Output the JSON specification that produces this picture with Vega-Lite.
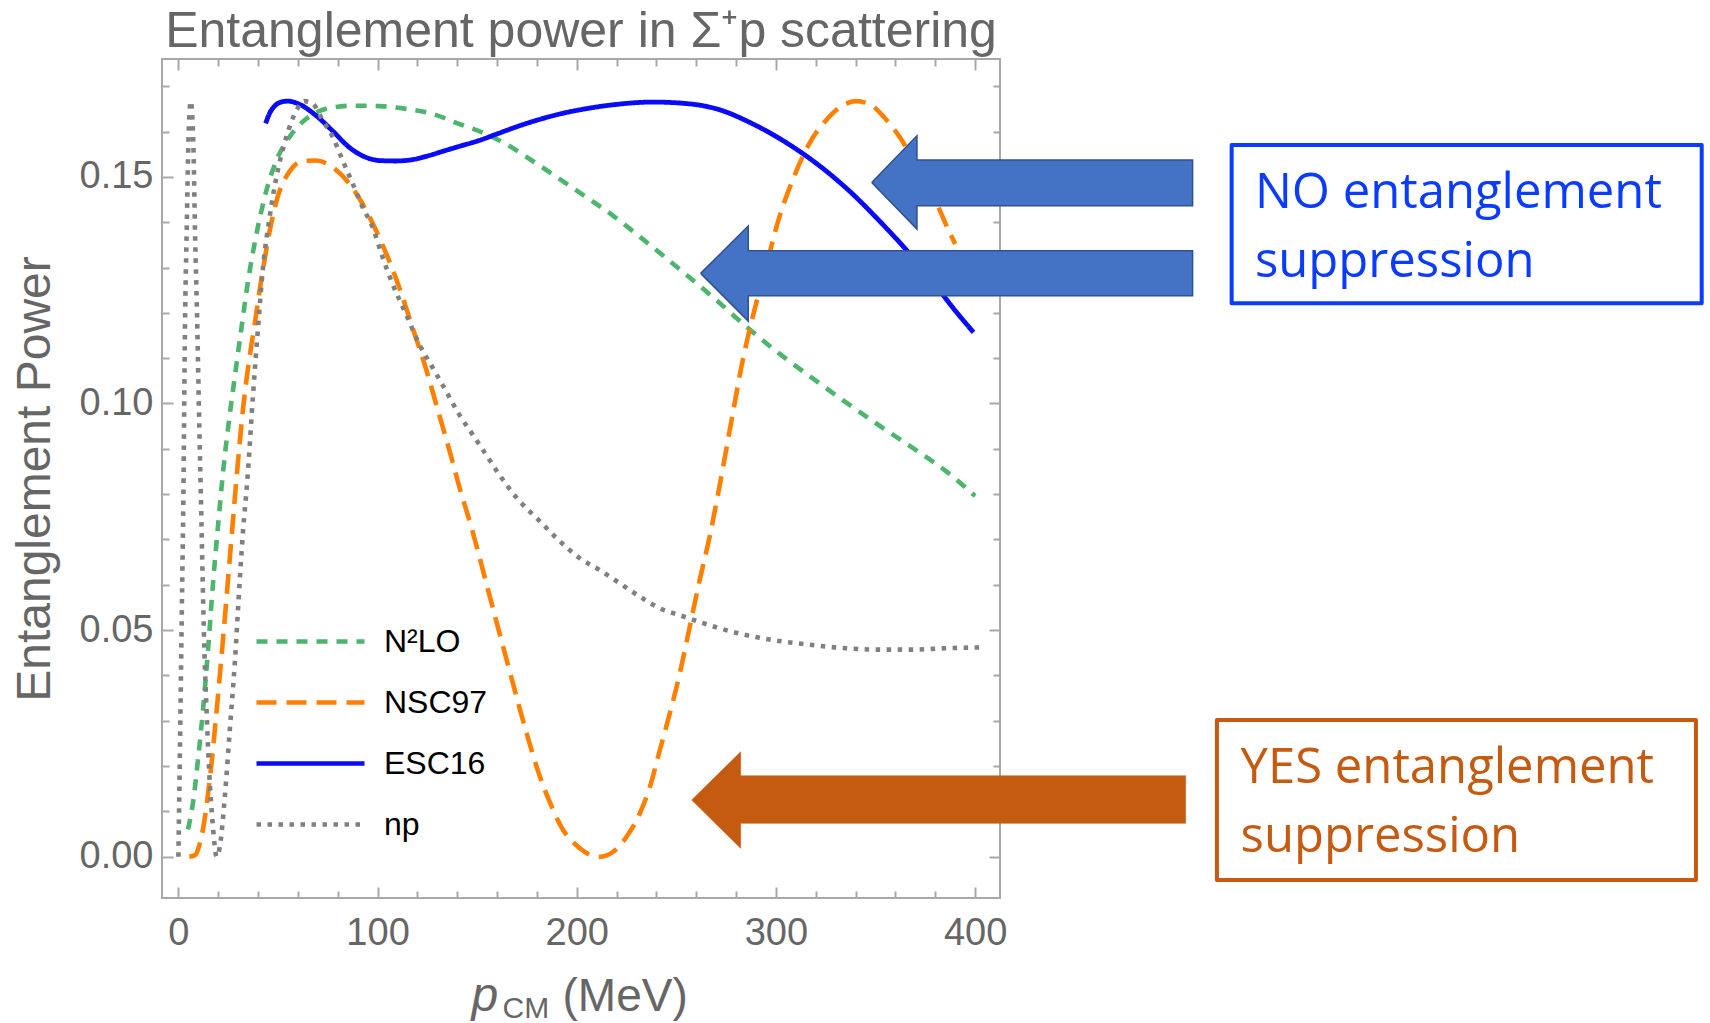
{
  "$schema": "https://vega.github.io/schema/vega-lite/v6.json",
  "width": 838,
  "height": 839,
  "autosize": {"type": "none"},
  "padding": {"left": 162, "top": 59, "right": 710, "bottom": 125},
  "background": "white",
  "title": {"text": "Entanglement power in Σ⁺p scattering", "anchor": "middle", "fontSize": 50, "font": "Liberation Sans", "fontWeight": "normal", "color": "#666666", "offset": 1},
  "datasets": {
    "curves": [
      {"s": "N²LO", "p": 4.8, "e": 0.006}, {"s": "N²LO", "p": 7.5, "e": 0.0125}, {"s": "N²LO", "p": 10, "e": 0.0221}, {"s": "N²LO", "p": 12.5, "e": 0.0331}, {"s": "N²LO", "p": 15, "e": 0.0463}, {"s": "N²LO", "p": 17.5, "e": 0.061}, {"s": "N²LO", "p": 20, "e": 0.0735}, {"s": "N²LO", "p": 22.5, "e": 0.0852}, {"s": "N²LO", "p": 25, "e": 0.0948}, {"s": "N²LO", "p": 28.3, "e": 0.1058}, {"s": "N²LO", "p": 31.7, "e": 0.1168}, {"s": "N²LO", "p": 35, "e": 0.1271}, {"s": "N²LO", "p": 39.2, "e": 0.1374}, {"s": "N²LO", "p": 44.2, "e": 0.147}, {"s": "N²LO", "p": 49.2, "e": 0.1536}, {"s": "N²LO", "p": 55.8, "e": 0.1588}, {"s": "N²LO", "p": 64.2, "e": 0.1628}, {"s": "N²LO", "p": 74.2, "e": 0.165}, {"s": "N²LO", "p": 87.5, "e": 0.1657}, {"s": "N²LO", "p": 100.8, "e": 0.1656}, {"s": "N²LO", "p": 114.2, "e": 0.165}, {"s": "N²LO", "p": 127.5, "e": 0.1639}, {"s": "N²LO", "p": 140.8, "e": 0.1617}, {"s": "N²LO", "p": 154.2, "e": 0.1595}, {"s": "N²LO", "p": 165.8, "e": 0.1569}, {"s": "N²LO", "p": 177.5, "e": 0.1536}, {"s": "N²LO", "p": 187.5, "e": 0.1507}, {"s": "N²LO", "p": 199.2, "e": 0.1472}, {"s": "N²LO", "p": 218.3, "e": 0.1414}, {"s": "N²LO", "p": 235, "e": 0.1356}, {"s": "N²LO", "p": 251.7, "e": 0.1296}, {"s": "N²LO", "p": 268.3, "e": 0.1235}, {"s": "N²LO", "p": 285, "e": 0.117}, {"s": "N²LO", "p": 301.7, "e": 0.111}, {"s": "N²LO", "p": 318.3, "e": 0.1056}, {"s": "N²LO", "p": 335, "e": 0.1003}, {"s": "N²LO", "p": 351.7, "e": 0.0952}, {"s": "N²LO", "p": 368.3, "e": 0.0903}, {"s": "N²LO", "p": 385, "e": 0.0852}, {"s": "N²LO", "p": 400, "e": 0.0796},
      {"s": "NSC97", "p": 5.5, "e": 0.0}, {"s": "NSC97", "p": 8.5, "e": 0.0004}, {"s": "NSC97", "p": 10.5, "e": 0.0025}, {"s": "NSC97", "p": 12.5, "e": 0.0065}, {"s": "NSC97", "p": 14.5, "e": 0.0125}, {"s": "NSC97", "p": 16.5, "e": 0.02}, {"s": "NSC97", "p": 18.5, "e": 0.029}, {"s": "NSC97", "p": 20.5, "e": 0.0385}, {"s": "NSC97", "p": 22.5, "e": 0.0485}, {"s": "NSC97", "p": 24.5, "e": 0.059}, {"s": "NSC97", "p": 26.5, "e": 0.0695}, {"s": "NSC97", "p": 28.5, "e": 0.08}, {"s": "NSC97", "p": 30.5, "e": 0.09}, {"s": "NSC97", "p": 32.5, "e": 0.099}, {"s": "NSC97", "p": 35, "e": 0.108}, {"s": "NSC97", "p": 38.3, "e": 0.1175}, {"s": "NSC97", "p": 41.7, "e": 0.1275}, {"s": "NSC97", "p": 45.8, "e": 0.138}, {"s": "NSC97", "p": 50, "e": 0.1458}, {"s": "NSC97", "p": 55.8, "e": 0.1512}, {"s": "NSC97", "p": 62.5, "e": 0.1535}, {"s": "NSC97", "p": 69.2, "e": 0.1536}, {"s": "NSC97", "p": 77.5, "e": 0.1521}, {"s": "NSC97", "p": 85.8, "e": 0.1485}, {"s": "NSC97", "p": 92.5, "e": 0.144}, {"s": "NSC97", "p": 99.2, "e": 0.1382}, {"s": "NSC97", "p": 105.8, "e": 0.1315}, {"s": "NSC97", "p": 110.8, "e": 0.1257}, {"s": "NSC97", "p": 117.5, "e": 0.1168}, {"s": "NSC97", "p": 124.2, "e": 0.1078}, {"s": "NSC97", "p": 130.8, "e": 0.0977}, {"s": "NSC97", "p": 137.5, "e": 0.0874}, {"s": "NSC97", "p": 140.8, "e": 0.082}, {"s": "NSC97", "p": 147.5, "e": 0.0721}, {"s": "NSC97", "p": 154.2, "e": 0.061}, {"s": "NSC97", "p": 160.8, "e": 0.05}, {"s": "NSC97", "p": 167.5, "e": 0.039}, {"s": "NSC97", "p": 174.2, "e": 0.0282}, {"s": "NSC97", "p": 180.8, "e": 0.0186}, {"s": "NSC97", "p": 187.5, "e": 0.011}, {"s": "NSC97", "p": 193, "e": 0.006}, {"s": "NSC97", "p": 197.5, "e": 0.0035}, {"s": "NSC97", "p": 203.3, "e": 0.0013}, {"s": "NSC97", "p": 208, "e": 0.0002}, {"s": "NSC97", "p": 211.7, "e": 0.0}, {"s": "NSC97", "p": 215, "e": 0.0003}, {"s": "NSC97", "p": 218.3, "e": 0.0011}, {"s": "NSC97", "p": 225, "e": 0.0044}, {"s": "NSC97", "p": 231.7, "e": 0.0096}, {"s": "NSC97", "p": 236.7, "e": 0.0154}, {"s": "NSC97", "p": 241.7, "e": 0.0235}, {"s": "NSC97", "p": 246.7, "e": 0.0316}, {"s": "NSC97", "p": 251.7, "e": 0.0404}, {"s": "NSC97", "p": 256.7, "e": 0.0507}, {"s": "NSC97", "p": 261.7, "e": 0.061}, {"s": "NSC97", "p": 266.7, "e": 0.0706}, {"s": "NSC97", "p": 271.7, "e": 0.0818}, {"s": "NSC97", "p": 278.3, "e": 0.0977}, {"s": "NSC97", "p": 283.3, "e": 0.1095}, {"s": "NSC97", "p": 288.3, "e": 0.119}, {"s": "NSC97", "p": 295, "e": 0.1301}, {"s": "NSC97", "p": 301.7, "e": 0.1411}, {"s": "NSC97", "p": 308.3, "e": 0.1492}, {"s": "NSC97", "p": 316.7, "e": 0.1573}, {"s": "NSC97", "p": 325, "e": 0.1624}, {"s": "NSC97", "p": 333.3, "e": 0.1657}, {"s": "NSC97", "p": 340, "e": 0.1667}, {"s": "NSC97", "p": 346.7, "e": 0.1661}, {"s": "NSC97", "p": 355, "e": 0.1628}, {"s": "NSC97", "p": 363.3, "e": 0.158}, {"s": "NSC97", "p": 371.7, "e": 0.1514}, {"s": "NSC97", "p": 380, "e": 0.1448}, {"s": "NSC97", "p": 386.7, "e": 0.1382}, {"s": "NSC97", "p": 390, "e": 0.1352},
      {"s": "ESC16", "p": 43.8, "e": 0.1618}, {"s": "ESC16", "p": 46, "e": 0.1642}, {"s": "ESC16", "p": 48.5, "e": 0.1657}, {"s": "ESC16", "p": 51.5, "e": 0.1665}, {"s": "ESC16", "p": 55, "e": 0.1667}, {"s": "ESC16", "p": 60.8, "e": 0.166}, {"s": "ESC16", "p": 69.2, "e": 0.1635}, {"s": "ESC16", "p": 77.5, "e": 0.1601}, {"s": "ESC16", "p": 85.8, "e": 0.1565}, {"s": "ESC16", "p": 94.2, "e": 0.1543}, {"s": "ESC16", "p": 100.8, "e": 0.1536}, {"s": "ESC16", "p": 109.2, "e": 0.1535}, {"s": "ESC16", "p": 117.5, "e": 0.1538}, {"s": "ESC16", "p": 124.2, "e": 0.1545}, {"s": "ESC16", "p": 132.5, "e": 0.1556}, {"s": "ESC16", "p": 140.8, "e": 0.1567}, {"s": "ESC16", "p": 150.8, "e": 0.158}, {"s": "ESC16", "p": 160.8, "e": 0.1596}, {"s": "ESC16", "p": 170.8, "e": 0.1612}, {"s": "ESC16", "p": 180.8, "e": 0.1626}, {"s": "ESC16", "p": 190.8, "e": 0.1638}, {"s": "ESC16", "p": 201.7, "e": 0.1648}, {"s": "ESC16", "p": 218.3, "e": 0.1659}, {"s": "ESC16", "p": 238.3, "e": 0.1665}, {"s": "ESC16", "p": 256.7, "e": 0.1661}, {"s": "ESC16", "p": 271.7, "e": 0.1648}, {"s": "ESC16", "p": 288.3, "e": 0.1617}, {"s": "ESC16", "p": 305, "e": 0.1576}, {"s": "ESC16", "p": 321.7, "e": 0.1525}, {"s": "ESC16", "p": 338.3, "e": 0.1463}, {"s": "ESC16", "p": 351.7, "e": 0.1404}, {"s": "ESC16", "p": 365, "e": 0.1341}, {"s": "ESC16", "p": 378.3, "e": 0.1271}, {"s": "ESC16", "p": 390, "e": 0.1205}, {"s": "ESC16", "p": 399.2, "e": 0.1157},
      {"s": "np", "p": 0, "e": 0.0}, {"s": "np", "p": 0.8, "e": 0.0243}, {"s": "np", "p": 1.7, "e": 0.0537}, {"s": "np", "p": 2.5, "e": 0.0794}, {"s": "np", "p": 3.3, "e": 0.1168}, {"s": "np", "p": 4.2, "e": 0.1389}, {"s": "np", "p": 5, "e": 0.1573}, {"s": "np", "p": 6.2, "e": 0.1667}, {"s": "np", "p": 7.5, "e": 0.1573}, {"s": "np", "p": 8.3, "e": 0.1389}, {"s": "np", "p": 9.5, "e": 0.1168}, {"s": "np", "p": 10.5, "e": 0.0948}, {"s": "np", "p": 11.3, "e": 0.0794}, {"s": "np", "p": 12.2, "e": 0.061}, {"s": "np", "p": 13, "e": 0.0463}, {"s": "np", "p": 14.2, "e": 0.0316}, {"s": "np", "p": 15.5, "e": 0.0184}, {"s": "np", "p": 17.2, "e": 0.0074}, {"s": "np", "p": 19.2, "e": 0.0}, {"s": "np", "p": 20.8, "e": 0.0022}, {"s": "np", "p": 23.3, "e": 0.0132}, {"s": "np", "p": 25.8, "e": 0.0279}, {"s": "np", "p": 28.3, "e": 0.0426}, {"s": "np", "p": 30.8, "e": 0.061}, {"s": "np", "p": 32.5, "e": 0.0721}, {"s": "np", "p": 34.5, "e": 0.0824}, {"s": "np", "p": 37.5, "e": 0.1021}, {"s": "np", "p": 40, "e": 0.1168}, {"s": "np", "p": 42.5, "e": 0.1301}, {"s": "np", "p": 45.8, "e": 0.1411}, {"s": "np", "p": 49.2, "e": 0.1499}, {"s": "np", "p": 54.2, "e": 0.1588}, {"s": "np", "p": 59.2, "e": 0.1646}, {"s": "np", "p": 63.3, "e": 0.1667}, {"s": "np", "p": 67.5, "e": 0.1661}, {"s": "np", "p": 72.5, "e": 0.1624}, {"s": "np", "p": 77.5, "e": 0.1588}, {"s": "np", "p": 82.5, "e": 0.1536}, {"s": "np", "p": 87.5, "e": 0.1485}, {"s": "np", "p": 92.5, "e": 0.1433}, {"s": "np", "p": 97.5, "e": 0.1389}, {"s": "np", "p": 102.5, "e": 0.1323}, {"s": "np", "p": 107.5, "e": 0.1264}, {"s": "np", "p": 114.2, "e": 0.1198}, {"s": "np", "p": 120.8, "e": 0.1132}, {"s": "np", "p": 127.5, "e": 0.108}, {"s": "np", "p": 134.2, "e": 0.1029}, {"s": "np", "p": 140.8, "e": 0.0977}, {"s": "np", "p": 147.5, "e": 0.0933}, {"s": "np", "p": 154.2, "e": 0.0889}, {"s": "np", "p": 160.8, "e": 0.0845}, {"s": "np", "p": 170.8, "e": 0.0787}, {"s": "np", "p": 180.8, "e": 0.0743}, {"s": "np", "p": 190.8, "e": 0.0699}, {"s": "np", "p": 201.7, "e": 0.0658}, {"s": "np", "p": 211.7, "e": 0.0632}, {"s": "np", "p": 221.7, "e": 0.0603}, {"s": "np", "p": 231.7, "e": 0.0574}, {"s": "np", "p": 241.7, "e": 0.0548}, {"s": "np", "p": 251.7, "e": 0.0533}, {"s": "np", "p": 261.7, "e": 0.0518}, {"s": "np", "p": 271.7, "e": 0.0504}, {"s": "np", "p": 285, "e": 0.0489}, {"s": "np", "p": 301.7, "e": 0.0476}, {"s": "np", "p": 318.3, "e": 0.0467}, {"s": "np", "p": 335, "e": 0.046}, {"s": "np", "p": 351.7, "e": 0.0457}, {"s": "np", "p": 368.3, "e": 0.0457}, {"s": "np", "p": 385, "e": 0.046}, {"s": "np", "p": 404.2, "e": 0.0462}
    ],
    "arrows": [
      {"a": "b1", "k": 1, "ax": 348.1, "ay": 0.14877},
      {"a": "b1", "k": 2, "ax": 370.8, "ay": 0.15906},
      {"a": "b1", "k": 3, "ax": 370.8, "ay": 0.1537},
      {"a": "b1", "k": 4, "ax": 509.2, "ay": 0.1537},
      {"a": "b1", "k": 5, "ax": 509.2, "ay": 0.14361},
      {"a": "b1", "k": 6, "ax": 370.8, "ay": 0.14361},
      {"a": "b1", "k": 7, "ax": 370.8, "ay": 0.13848},
      {"a": "b1", "k": 8, "ax": 348.1, "ay": 0.14877},
      {"a": "b2", "k": 1, "ax": 262.2, "ay": 0.1287},
      {"a": "b2", "k": 2, "ax": 286.1, "ay": 0.13914},
      {"a": "b2", "k": 3, "ax": 286.1, "ay": 0.13369},
      {"a": "b2", "k": 4, "ax": 509.2, "ay": 0.13369},
      {"a": "b2", "k": 5, "ax": 509.2, "ay": 0.12376},
      {"a": "b2", "k": 6, "ax": 286.1, "ay": 0.12376},
      {"a": "b2", "k": 7, "ax": 286.1, "ay": 0.11818},
      {"a": "b2", "k": 8, "ax": 262.2, "ay": 0.1287},
      {"a": "o", "k": 1, "ax": 257.7, "ay": 0.01251},
      {"a": "o", "k": 2, "ax": 282.3, "ay": 0.02316},
      {"a": "o", "k": 3, "ax": 282.3, "ay": 0.01787},
      {"a": "o", "k": 4, "ax": 505.7, "ay": 0.01787},
      {"a": "o", "k": 5, "ax": 505.7, "ay": 0.00737},
      {"a": "o", "k": 6, "ax": 282.3, "ay": 0.00737},
      {"a": "o", "k": 7, "ax": 282.3, "ay": 0.00185},
      {"a": "o", "k": 8, "ax": 257.7, "ay": 0.01251}
    ],
    "boxes": [
      {"b": "no", "bx": 528.8, "bx2": 764.8, "by": 0.157, "by2": 0.12214},
      {"b": "yes", "bx": 521.4, "bx2": 761.9, "by": 0.03016, "by2": -0.00514}
    ],
    "notes": [
      {"g": "no", "tx": 540.5, "ty": 0.14304, "t": "NO entanglement"},
      {"g": "no", "tx": 540.5, "ty": 0.12795, "t": "suppression"},
      {"g": "yes", "tx": 533.3, "ty": 0.01619, "t": "YES entanglement"},
      {"g": "yes", "tx": 533.3, "ty": 0.0011, "t": "suppression"}
    ]
  },
  "layer": [
    {
      "data": {"name": "curves"},
      "transform": [{"filter": {"field": "s", "equal": "N²LO"}}],
      "mark": {"type": "line", "strokeWidth": 4.6, "strokeCap": "butt", "interpolate": "monotone"},
      "encoding": {
        "x": {"field": "p", "type": "quantitative", "scale": {"domain": [-8.23, 412.5], "nice": false, "zero": false},
          "axis": {"orient": "bottom", "values": [0, 100, 200, 300, 400], "tickSize": -11, "labelPadding": 27, "title": "(MeV)", "titleAlign": "left", "titleBaseline": "alphabetic", "titleX": 400, "titleY": 112, "titleAngle": 0}},
        "y": {"field": "e", "type": "quantitative", "scale": {"domain": [-0.0091, 0.176], "nice": false, "zero": false},
          "axis": {"orient": "left", "values": [0, 0.05, 0.1, 0.15], "format": ".2f", "tickSize": -11, "labelPadding": 20, "title": "Entanglement Power", "titleFontSize": 48, "titleAlign": "center", "titleBaseline": "middle", "titleAngle": -90, "titleX": -127, "titleY": 419.5}},
        "color": {"field": "s", "type": "nominal", "scale": {"domain": ["N²LO", "NSC97", "ESC16", "np"], "range": ["#4DB56D", "#FF8000", "#0A0AFA", "#808080"]},
          "legend": {"orient": "none", "legendX": 92, "legendY": 552, "title": null, "symbolType": "stroke", "symbolSize": 11664, "symbolStrokeWidth": 4.5, "clipHeight": 61, "rowPadding": 0, "labelFontSize": 32, "labelFont": "Liberation Sans", "labelColor": "#000000", "labelOffset": 17, "padding": 0}},
        "strokeDash": {"field": "s", "type": "nominal", "scale": {"domain": ["N²LO", "NSC97", "ESC16", "np"], "range": [[11, 9], [20, 10], [1, 0], [4.5, 6.5]]},
          "legend": {"orient": "none", "legendX": 92, "legendY": 552, "title": null, "symbolType": "stroke", "symbolSize": 11664, "symbolStrokeWidth": 4.5, "clipHeight": 61, "rowPadding": 0, "labelFontSize": 32, "labelFont": "Liberation Sans", "labelColor": "#000000", "labelOffset": 17, "padding": 0}}
      }
    },
    {
      "data": {"name": "curves"},
      "transform": [{"filter": {"field": "s", "equal": "NSC97"}}],
      "mark": {"type": "line", "strokeWidth": 4.6, "strokeCap": "butt", "interpolate": "monotone"},
      "encoding": {
        "x": {"field": "p", "type": "quantitative", "scale": {"domain": [-8.23, 412.5], "nice": false, "zero": false},
          "axis": {"orient": "bottom", "values": [20, 40, 60, 80, 120, 140, 160, 180, 220, 240, 260, 280, 320, 340, 360, 380], "tickSize": -7, "labels": false, "title": "p", "titleFontStyle": "italic", "titleFontSize": 48, "titleAlign": "left", "titleBaseline": "alphabetic", "titleX": 309, "titleY": 112, "titleAngle": 0}},
        "y": {"field": "e", "type": "quantitative", "scale": {"domain": [-0.0091, 0.176], "nice": false, "zero": false},
          "axis": {"orient": "left", "values": [0.01, 0.02, 0.03, 0.04, 0.06, 0.07, 0.08, 0.09, 0.11, 0.12, 0.13, 0.14, 0.16, 0.17], "tickSize": -7, "labels": false, "title": null}},
        "color": {"field": "s", "type": "nominal", "scale": {"domain": ["N²LO", "NSC97", "ESC16", "np"], "range": ["#4DB56D", "#FF8000", "#0A0AFA", "#808080"]}},
        "strokeDash": {"field": "s", "type": "nominal", "scale": {"domain": ["N²LO", "NSC97", "ESC16", "np"], "range": [[11, 9], [20, 10], [1, 0], [4.5, 6.5]]}}
      }
    },
    {
      "data": {"name": "curves"},
      "transform": [{"filter": {"field": "s", "equal": "ESC16"}}],
      "mark": {"type": "line", "strokeWidth": 4.8, "strokeCap": "butt", "interpolate": "monotone"},
      "encoding": {
        "x": {"field": "p", "type": "quantitative", "scale": {"domain": [-8.23, 412.5], "nice": false, "zero": false},
          "axis": {"orient": "top", "values": [0, 100, 200, 300, 400], "tickSize": -11, "labels": false, "title": "CM", "titleFontSize": 30, "titleAlign": "left", "titleBaseline": "alphabetic", "titleX": 340, "titleY": 958, "titleAngle": 0}},
        "y": {"field": "e", "type": "quantitative", "scale": {"domain": [-0.0091, 0.176], "nice": false, "zero": false},
          "axis": {"orient": "right", "values": [0, 0.05, 0.1, 0.15], "tickSize": -11, "labels": false, "title": null}},
        "color": {"field": "s", "type": "nominal", "scale": {"domain": ["N²LO", "NSC97", "ESC16", "np"], "range": ["#4DB56D", "#FF8000", "#0A0AFA", "#808080"]}},
        "strokeDash": {"field": "s", "type": "nominal", "scale": {"domain": ["N²LO", "NSC97", "ESC16", "np"], "range": [[11, 9], [20, 10], [1, 0], [4.5, 6.5]]}}
      }
    },
    {
      "data": {"name": "curves"},
      "transform": [{"filter": {"field": "s", "equal": "np"}}],
      "mark": {"type": "line", "strokeWidth": 4.6, "strokeCap": "butt", "interpolate": "monotone"},
      "encoding": {
        "x": {"field": "p", "type": "quantitative", "scale": {"domain": [-8.23, 412.5], "nice": false, "zero": false},
          "axis": {"orient": "top", "values": [20, 40, 60, 80, 120, 140, 160, 180, 220, 240, 260, 280, 320, 340, 360, 380], "tickSize": -7, "labels": false, "title": null}},
        "y": {"field": "e", "type": "quantitative", "scale": {"domain": [-0.0091, 0.176], "nice": false, "zero": false},
          "axis": {"orient": "right", "values": [0.01, 0.02, 0.03, 0.04, 0.06, 0.07, 0.08, 0.09, 0.11, 0.12, 0.13, 0.14, 0.16, 0.17], "tickSize": -7, "labels": false, "title": null}},
        "color": {"field": "s", "type": "nominal", "scale": {"domain": ["N²LO", "NSC97", "ESC16", "np"], "range": ["#4DB56D", "#FF8000", "#0A0AFA", "#808080"]}},
        "strokeDash": {"field": "s", "type": "nominal", "scale": {"domain": ["N²LO", "NSC97", "ESC16", "np"], "range": [[11, 9], [20, 10], [1, 0], [4.5, 6.5]]}}
      }
    },
    {
      "data": {"name": "arrows"},
      "transform": [{"filter": {"field": "a", "oneOf": ["b1", "b2"]}}],
      "mark": {"type": "line", "fill": "#4472C4", "stroke": "#2F528F", "strokeWidth": 1.5, "strokeJoin": "miter", "interpolate": "linear"},
      "encoding": {
        "x": {"field": "ax", "type": "quantitative", "scale": {"domain": [-8.23, 412.5], "nice": false, "zero": false}, "axis": null},
        "y": {"field": "ay", "type": "quantitative", "scale": {"domain": [-0.0091, 0.176], "nice": false, "zero": false}, "axis": null},
        "detail": {"field": "a"},
        "order": {"field": "k", "type": "quantitative"}
      }
    },
    {
      "data": {"name": "arrows"},
      "transform": [{"filter": {"field": "a", "equal": "o"}}],
      "mark": {"type": "line", "fill": "#C55A11", "stroke": "#C55A11", "strokeWidth": 0.5, "strokeJoin": "miter", "interpolate": "linear"},
      "encoding": {
        "x": {"field": "ax", "type": "quantitative", "scale": {"domain": [-8.23, 412.5], "nice": false, "zero": false}, "axis": null},
        "y": {"field": "ay", "type": "quantitative", "scale": {"domain": [-0.0091, 0.176], "nice": false, "zero": false}, "axis": null},
        "order": {"field": "k", "type": "quantitative"}
      }
    },
    {
      "data": {"name": "boxes"},
      "mark": {"type": "rect", "filled": false, "strokeWidth": 4, "strokeJoin": "round"},
      "encoding": {
        "x": {"field": "bx", "type": "quantitative", "scale": {"domain": [-8.23, 412.5], "nice": false, "zero": false}, "axis": null},
        "x2": {"field": "bx2"},
        "y": {"field": "by", "type": "quantitative", "scale": {"domain": [-0.0091, 0.176], "nice": false, "zero": false}, "axis": null},
        "y2": {"field": "by2"},
        "stroke": {"field": "b", "type": "nominal", "scale": {"domain": ["no", "yes"], "range": ["#0A3BFF", "#C55A11"]}, "legend": null}
      }
    },
    {
      "data": {"name": "notes"},
      "mark": {"type": "text", "align": "left", "baseline": "alphabetic", "font": "Open Sans", "fontSize": 49},
      "encoding": {
        "x": {"field": "tx", "type": "quantitative", "scale": {"domain": [-8.23, 412.5], "nice": false, "zero": false}, "axis": null},
        "y": {"field": "ty", "type": "quantitative", "scale": {"domain": [-0.0091, 0.176], "nice": false, "zero": false}, "axis": null},
        "text": {"field": "t"},
        "fill": {"field": "g", "type": "nominal", "scale": {"domain": ["no", "yes"], "range": ["#0A3BFF", "#C55A11"]}, "legend": null}
      }
    }
  ],
  "resolve": {"axis": {"x": "independent", "y": "independent"}},
  "config": {
    "view": {"stroke": "#a8a8a8", "strokeWidth": 2},
    "font": "Liberation Sans",
    "axis": {"grid": false, "domain": false, "tickColor": "#a8a8a8", "tickWidth": 2, "labelColor": "#666666", "labelFont": "Liberation Sans", "labelFontSize": 38, "titleColor": "#666666", "titleFont": "Liberation Sans", "titleFontWeight": "normal", "titleFontSize": 46, "labelFlush": false, "labelOverlap": false, "labelBound": false}
  }
}
